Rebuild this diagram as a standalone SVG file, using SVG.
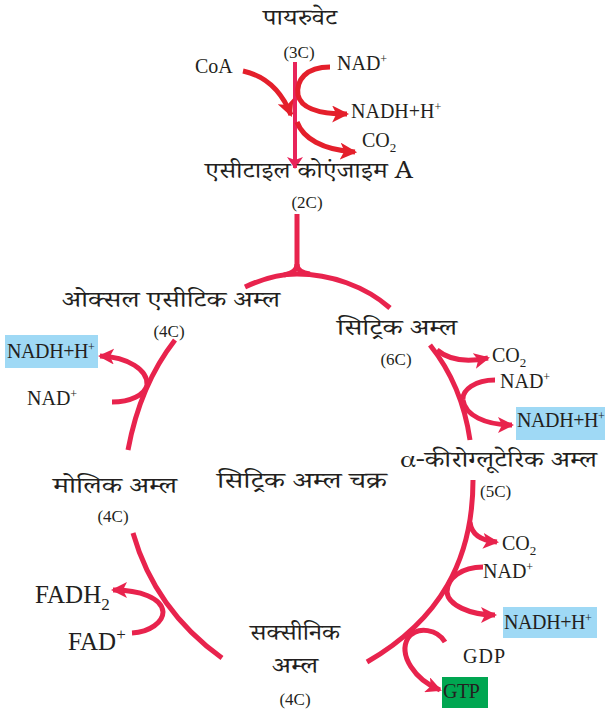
<svg xmlns="http://www.w3.org/2000/svg" width="605" height="719" viewBox="0 0 605 719">
<style>
.hi{font-family:"Noto Serif Devanagari","Noto Sans Devanagari","Lohit Devanagari","FreeSerif",serif;font-size:23px;fill:#231f20}
.la{font-family:"Liberation Serif","DejaVu Serif",serif;font-size:20px;fill:#231f20}
.sm{font-family:"Liberation Serif","DejaVu Serif",serif;font-size:17px;fill:#231f20}
.big{font-family:"Liberation Serif","DejaVu Serif",serif;font-size:25px;fill:#231f20}
.nd{font-family:"Liberation Serif","DejaVu Serif",serif;font-size:20px;fill:#231f20;letter-spacing:-0.4px}
.c{fill:none;stroke:#e8234d;stroke-width:5;stroke-linecap:butt}
.r{fill:none;stroke:#e41f2b;stroke-width:5}
.blue{fill:#9fd9f5}
.green{fill:#00a651}
</style>
<defs>
<marker id="ah" viewBox="0 0 16 16" refX="14" refY="8" markerWidth="16" markerHeight="16" markerUnits="userSpaceOnUse" orient="auto">
<path d="M0,0 L16,8 L0,16 L4,8 z" fill="#e8234d"/>
</marker>
<marker id="ahr" viewBox="0 0 16 16" refX="14" refY="8" markerWidth="17" markerHeight="17" markerUnits="userSpaceOnUse" orient="auto">
<path d="M0,0 L16,8 L0,16 L4,8 z" fill="#e41f2b"/>
</marker>
<marker id="ahv" viewBox="0 0 12 16" refX="11" refY="8" markerWidth="12" markerHeight="16" markerUnits="userSpaceOnUse" orient="auto">
<path d="M0,0 L12,8 L0,16 L3,8 z" fill="#e8245a"/>
</marker>
</defs>

<g id="connectors">
<!-- top -->
<path d="M295,62 L295,168" fill="none" stroke="#e8245a" stroke-width="4" marker-end="url(#ahv)"/>
<path class="r" d="M243,71 C266,76 282,92 291,115" marker-end="url(#ahr)"/>
<path class="r" d="M330,67 C306,67 296,80 298,95 C301,109 320,114 347,114" marker-end="url(#ahr)"/>
<path class="r" d="M297,122 C303,138 322,150 355,152" marker-end="url(#ahr)"/>
<!-- join -->
<path class="c" d="M297,214 L297,264 C297,270 293,273 284,275"/>
<path class="c" d="M297,264 C297,270 301,273 310,274"/>
<path class="c" d="M245,287 C262,279 280,274 297,274 C330,274 365,286 390,308"/>
<!-- right upper -->
<path class="c" d="M430,345 Q462,385 470,440"/>
<path class="c" d="M437,350 Q455,365 488,358" marker-end="url(#ah)"/>
<path class="c" d="M495,380 C475,380 462,390 463,400 C465,415 485,425 512,425" marker-end="url(#ah)"/>
<!-- left upper -->
<path class="c" d="M175,340 Q140,385 128,450"/>
<path class="c" d="M112,402 C130,402 145,395 147,385 C148,370 128,357 100,356" marker-end="url(#ah)"/>
<!-- left lower -->
<path class="c" d="M133,533 Q155,610 222,658"/>
<path class="c" d="M132,633 C150,632 163,622 163,612 C162,598 140,590 113,590" marker-end="url(#ah)"/>
<!-- right lower -->
<path class="c" d="M473,480 C473,560 440,620 367,662"/>
<path class="c" d="M470,522 Q472,540 497,542" marker-end="url(#ah)"/>
<path class="c" d="M483,567 C462,567 447,578 447,592 C448,605 470,615 495,615" marker-end="url(#ah)"/>
<path class="c" d="M445,642 C438,630 418,625 408,638 C398,655 415,680 440,690" marker-end="url(#ah)"/>
</g>

<g id="pyruvate">
<text class="hi" x="263" y="25" textLength="74" lengthAdjust="spacingAndGlyphs">पायरुवेट</text>
<text class="sm" x="299" y="58" text-anchor="middle">(3C)</text>
</g>
<g id="coa"><text class="la" x="195" y="73">CoA</text></g>
<g id="nad-top"><text class="la" x="337" y="70">NAD<tspan font-size="12" dy="-7">+</tspan></text></g>
<g id="nadh-top"><text class="la" x="351" y="118">NADH+H<tspan font-size="12" dy="-7">+</tspan></text></g>
<g id="co2-top"><text class="la" x="362" y="147">CO<tspan font-size="13" dy="5">2</tspan></text></g>
<g id="acetyl-coa">
<text class="hi" x="205" y="178" textLength="208" lengthAdjust="spacingAndGlyphs">एसीटाइल कोएंजाइम A</text>
<text class="sm" x="307" y="208" text-anchor="middle">(2C)</text>
</g>
<g id="oxaloacetic">
<text class="hi" x="62" y="307" textLength="218" lengthAdjust="spacingAndGlyphs">ओक्सल एसीटिक अम्ल</text>
<text class="sm" x="169" y="337" text-anchor="middle">(4C)</text>
</g>
<g id="nadh-left">
<rect class="blue" x="5" y="335" width="93" height="33"/>
<text class="nd" x="7" y="358">NADH+H<tspan font-size="12" dy="-7">+</tspan></text>
</g>
<g id="nad-left"><text class="la" x="27" y="405">NAD<tspan font-size="12" dy="-7">+</tspan></text></g>
<g id="citric">
<text class="hi" x="337" y="335" textLength="120" lengthAdjust="spacingAndGlyphs">सिट्रिक अम्ल</text>
<text class="sm" x="396" y="365" text-anchor="middle">(6C)</text>
</g>
<g id="co2-r1"><text class="la" x="492" y="362">CO<tspan font-size="13" dy="5">2</tspan></text></g>
<g id="nad-r1"><text class="la" x="500" y="388">NAD<tspan font-size="12" dy="-7">+</tspan></text></g>
<g id="nadh-r1">
<rect class="blue" x="516" y="407" width="89" height="33"/>
<text class="nd" x="517" y="427">NADH+H<tspan font-size="12" dy="-7">+</tspan></text>
</g>
<g id="ketoglutaric">
<text class="hi" x="400" y="467" textLength="197" lengthAdjust="spacingAndGlyphs">α-कीरोग्लूटेरिक अम्ल</text>
<text class="sm" x="480" y="497">(5C)</text>
</g>
<g id="co2-r2"><text class="la" x="502" y="550">CO<tspan font-size="13" dy="5">2</tspan></text></g>
<g id="nad-r2"><text class="la" x="483" y="578">NAD<tspan font-size="12" dy="-7">+</tspan></text></g>
<g id="nadh-r2">
<rect class="blue" x="503" y="607" width="94" height="31"/>
<text class="nd" x="504" y="629">NADH+H<tspan font-size="12" dy="-7">+</tspan></text>
</g>
<g id="gdp"><text class="la" x="463" y="663" letter-spacing="1">GDP</text></g>
<g id="gtp">
<rect class="green" x="442" y="677" width="46" height="31"/>
<text class="nd" x="443" y="698">GTP</text>
</g>
<g id="succinic">
<text class="hi" x="250" y="640" textLength="90" lengthAdjust="spacingAndGlyphs">सक्सीनिक</text>
<text class="hi" x="272" y="673" textLength="46" lengthAdjust="spacingAndGlyphs">अम्ल</text>
<text class="sm" x="295" y="705" text-anchor="middle">(4C)</text>
</g>
<g id="fadh2"><text class="big" x="35" y="603">FADH<tspan font-size="17" dy="7">2</tspan></text></g>
<g id="fad"><text class="big" x="68" y="650">FAD<tspan font-size="17" dy="-10">+</tspan></text></g>
<g id="malic">
<text class="hi" x="53" y="493" textLength="124" lengthAdjust="spacingAndGlyphs">मोलिक अम्ल</text>
<text class="sm" x="113" y="522" text-anchor="middle">(4C)</text>
</g>
<g id="cycle-label"><text class="hi" x="217" y="488" textLength="170" lengthAdjust="spacingAndGlyphs">सिट्रिक अम्ल चक्र</text></g>
</svg>
